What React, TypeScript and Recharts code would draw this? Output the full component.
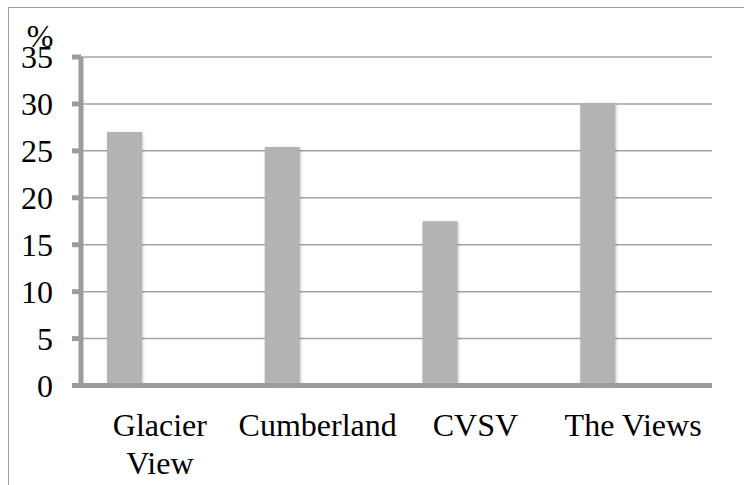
import React from 'react';
import { BarChart, Bar, XAxis, YAxis, CartesianGrid } from 'recharts';

const FONT = '"Liberation Serif", "Times New Roman", serif';

const categories = ['Glacier View', 'Cumberland', 'CVSV', 'The Views'];
const shareValues = [27, 25.4, 17.5, 30.1];
// the original sheet had two more series with no values in them
const emptySeriesB: (number | null)[] = [null, null, null, null];
const emptySeriesC: (number | null)[] = [null, null, null, null];
const yTicks = [0, 5, 10, 15, 20, 25, 30, 35];
const categoryEdges = [0, 1, 2, 3, 4];

const data = categories.map((name, i) => ({
  name,
  a: shareValues[i],
  b: emptySeriesB[i],
  c: emptySeriesC[i],
}));

const AXIS_GREY = '#9c9c9c';
const LABEL_SIZE = 32;

let ctx: CanvasRenderingContext2D | null = null;
const measure = (s: string) => {
  if (!ctx) ctx = document.createElement('canvas').getContext('2d');
  if (!ctx) return s.length * LABEL_SIZE * 0.5;
  ctx.font = `${LABEL_SIZE}px ${FONT}`;
  return ctx.measureText(s).width;
};

// word wrap like the spreadsheet does when a label is wider than its slot
const wrap = (label: string, maxWidth: number) => {
  const words = label.split(' ');
  const lines: string[] = [];
  let cur = '';
  words.forEach((w) => {
    const next = cur ? `${cur} ${w}` : w;
    if (cur && measure(next) > maxWidth) {
      lines.push(cur);
      cur = w;
    } else {
      cur = next;
    }
  });
  if (cur) lines.push(cur);
  return lines;
};

const CategoryTick = (props: any) => {
  const { x, y, payload } = props;
  const lines = wrap(String(payload.value), 155);
  return (
    <text
      x={x}
      y={y}
      textAnchor="middle"
      fontSize={LABEL_SIZE}
      fontFamily={FONT}
      fill="#000"
    >
      {lines.map((l, i) => (
        <tspan key={i} x={x} dy={i === 0 ? '0.71em' : 38}>
          {l}
        </tspan>
      ))}
    </text>
  );
};

const barStyle = { filter: 'drop-shadow(1.5px 1px 1.5px rgba(0,0,0,0.22))' };

export default function App() {
  return (
    <div
      style={{
        position: 'absolute',
        left: 8,
        top: 7,
        width: 736,
        height: 478,
        borderTop: '1px solid #a0a0a0',
        borderLeft: '1px solid #a0a0a0',
        boxSizing: 'border-box',
        background: '#fff',
      }}
    >
      <BarChart
        width={735}
        height={477}
        data={data}
        barGap={0}
        margin={{ top: 49, right: 32, bottom: 0, left: 0 }}
      >
        <CartesianGrid vertical={false} stroke="#a3a3a3" strokeWidth={1.5} />
        {/* axis line with ticks on the category boundaries */}
        <XAxis
          xAxisId={0}
          type="number"
          domain={[0, 4]}
          allowDataOverflow
          ticks={categoryEdges}
          tick={false}
          height={1}
          tickSize={10}
          axisLine={{ stroke: AXIS_GREY, strokeWidth: 5 }}
          tickLine={{ stroke: AXIS_GREY, strokeWidth: 5 }}
        />
        <XAxis
          xAxisId={1}
          dataKey="name"
          height={98.5}
          axisLine={false}
          tickLine={false}
          tickSize={0}
          tickMargin={27}
          interval={0}
          tick={<CategoryTick />}
        />
        <YAxis
          width={72}
          domain={[0, 35]}
          ticks={yTicks}
          interval={0}
          tickSize={9}
          tickMargin={19}
          axisLine={{ stroke: AXIS_GREY, strokeWidth: 5 }}
          tickLine={{ stroke: AXIS_GREY, strokeWidth: 5 }}
          tick={{ fill: '#000', fontSize: 32, fontFamily: FONT }}
          label={{
            value: '%',
            position: 'top',
            offset: 10,
            dx: -5,
            fill: '#000',
            fontSize: 32,
            fontFamily: FONT,
          }}
        />
        <Bar xAxisId={1} dataKey="a" fill="#b3b3b3" barSize={35} style={barStyle} isAnimationActive={false} />
        <Bar xAxisId={1} dataKey="b" fill="#b3b3b3" barSize={35} isAnimationActive={false} />
        <Bar xAxisId={1} dataKey="c" fill="#b3b3b3" barSize={35} isAnimationActive={false} />
      </BarChart>
    </div>
  );
}
